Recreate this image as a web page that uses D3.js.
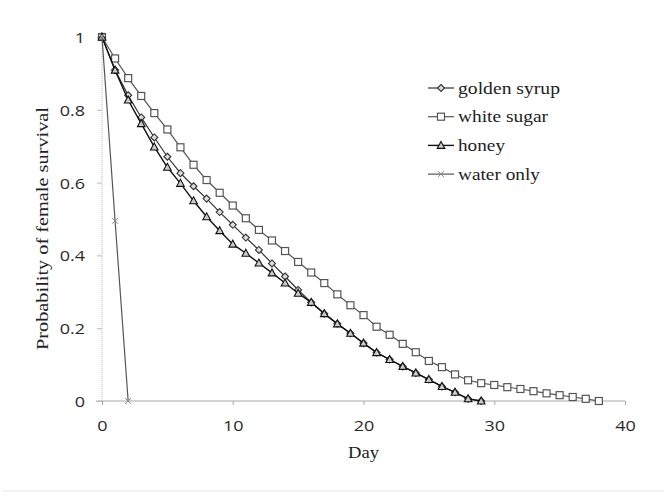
<!DOCTYPE html>
<html><head><meta charset="utf-8">
<script src="https://cdn.jsdelivr.net/npm/d3@7"></script>
<style>body{margin:0;background:#fff}svg{display:block}</style>
</head><body>
<script>
const days = d3.range(0, 39);
const goldenSyrup = [1,0.909,0.840,0.779,0.724,0.671,0.626,0.590,0.556,0.519,0.484,0.449,0.415,0.378,0.342,0.305,0.271,0.240,0.212,0.186,0.159,0.133,0.114,0.095,0.077,0.059,0.040,0.024,0.006,0];
const whiteSugar = [1,0.941,0.887,0.838,0.791,0.746,0.697,0.649,0.607,0.572,0.537,0.502,0.470,0.441,0.412,0.382,0.353,0.324,0.293,0.263,0.236,0.204,0.182,0.157,0.134,0.110,0.093,0.073,0.057,0.049,0.044,0.038,0.033,0.027,0.021,0.016,0.011,0.006,0];
const honey = [1,0.909,0.827,0.762,0.698,0.642,0.598,0.550,0.506,0.468,0.431,0.406,0.379,0.352,0.324,0.296,0.271,0.240,0.212,0.186,0.159,0.133,0.114,0.095,0.077,0.059,0.040,0.024,0.006,0];
const waterOnly = [1,0.495,0];
const seriesNames = ["golden syrup","white sugar","honey","water only"];
const xTicks = [0,10,20,30,40];
const yTicks = [0,0.2,0.4,0.6,0.8,1];

const W=667,H=496;
const svg=d3.select("body").append("svg").attr("width",W).attr("height",H);
const x=d3.scaleLinear().domain([0,40]).range([102,625]);
const y=d3.scaleLinear().domain([0,1]).range([401,37]);
const serif="'Liberation Serif', 'Times New Roman', serif";
const sans="'Open Sans', 'Liberation Sans', sans-serif";

function stretch(sel,k){ sel.each(function(){ const l=this.getComputedTextLength(); d3.select(this).attr("textLength",l*k).attr("lengthAdjust","spacingAndGlyphs"); }); }

// faint bottom line
svg.append("line").attr("x1",3).attr("x2",664).attr("y1",491).attr("y2",491).attr("stroke","#eee").attr("stroke-width",1.5);

// axes
const xAxis=svg.append("g").attr("transform","translate(0,401)")
  .call(d3.axisBottom(x).tickValues(xTicks).tickSize(4).tickFormat(d3.format("d")));
xAxis.select(".domain").attr("d","M96,0H625").attr("stroke","#aaa");
xAxis.selectAll(".tick line").attr("stroke","#aaa");
xAxis.selectAll("text").attr("font-family",sans).attr("font-size",15).attr("fill","#2a2a2a").attr("y",0).attr("dy","30");
stretch(xAxis.selectAll("text"),1.2);

const yAxis=svg.append("g").attr("transform","translate(102,0)")
  .call(d3.axisLeft(y).tickValues(yTicks).tickSize(5).tickFormat(d=>d===0?"0":d===1?"1":d3.format(".1f")(d)));
yAxis.select(".domain").attr("d","M0,401V37").attr("stroke","#bbb").attr("stroke-dasharray","1,1");
yAxis.selectAll(".tick line").attr("stroke","#bbb");
yAxis.selectAll("text").attr("font-family",sans).attr("font-size",15).attr("fill","#2a2a2a").attr("x",-17).attr("dy","0.36em");
stretch(yAxis.selectAll("text"),1.2);

// titles
svg.append("text").attr("x",x(20)).attr("y",458).attr("text-anchor","middle")
  .attr("font-family",serif).attr("font-size",17).attr("fill","#222")
  .attr("textLength",31).attr("lengthAdjust","spacingAndGlyphs").text("Day");
svg.append("text").attr("transform","translate(48,228.5) rotate(-90)").attr("text-anchor","middle")
  .attr("font-family",serif).attr("font-size",17).attr("fill","#222")
  .attr("textLength",243).attr("lengthAdjust","spacingAndGlyphs").text("Probability of female survival");

const line=d3.line().x((d,i)=>x(days[i])).y(d=>y(d));
const styles=[
  {data:goldenSyrup,color:"#333",width:1.2,marker:"diamond"},
  {data:whiteSugar,color:"#555",width:1.2,marker:"square"},
  {data:honey,color:"#111",width:1.4,marker:"triangle"},
  {data:waterOnly,color:"#555",width:1.2,marker:"cross"}
];
function drawMarker(g,type,cx,cy,color){
  if(type==="square"){
    g.append("rect").attr("x",cx-3.5).attr("y",cy-3.5).attr("width",7).attr("height",7)
      .attr("fill","#fff").attr("stroke",color).attr("stroke-width",1.2);
  } else if(type==="diamond"){
    g.append("path").attr("d",`M${cx},${cy-3.5}L${cx+3.5},${cy}L${cx},${cy+3.5}L${cx-3.5},${cy}Z`)
      .attr("fill","#ddd").attr("stroke",color).attr("stroke-width",1.1);
  } else if(type==="triangle"){
    g.append("path").attr("d",`M${cx},${cy-4}L${cx+3.8},${cy+3}L${cx-3.8},${cy+3}Z`)
      .attr("fill","#ccc").attr("stroke",color).attr("stroke-width",1.1);
  } else {
    g.append("path").attr("d",`M${cx-3},${cy-3}L${cx+3},${cy+3}M${cx-3},${cy+3}L${cx+3},${cy-3}`)
      .attr("stroke","#888").attr("stroke-width",1);
  }
}
styles.forEach(s=>{
  const g=svg.append("g");
  g.append("path").datum(s.data).attr("d",line).attr("fill","none").attr("stroke",s.color).attr("stroke-width",s.width);
  s.data.forEach((v,i)=>drawMarker(g,s.marker,x(days[i]),y(v),s.color));
});

// legend
const legendWidths=[102,90,47,82];
const leg=svg.append("g");
seriesNames.forEach((n,i)=>{
  const ly=88+i*28.7;
  const s=styles[i];
  leg.append("line").attr("x1",428).attr("x2",454).attr("y1",ly).attr("y2",ly).attr("stroke",s.color).attr("stroke-width",s.width);
  drawMarker(leg,s.marker,441,ly,s.color);
  leg.append("text").attr("x",458).attr("y",ly+5.5).attr("font-family",serif).attr("font-size",17).attr("fill","#222")
    .attr("textLength",legendWidths[i]).attr("lengthAdjust","spacingAndGlyphs").text(n);
});
</script>
</body></html>
